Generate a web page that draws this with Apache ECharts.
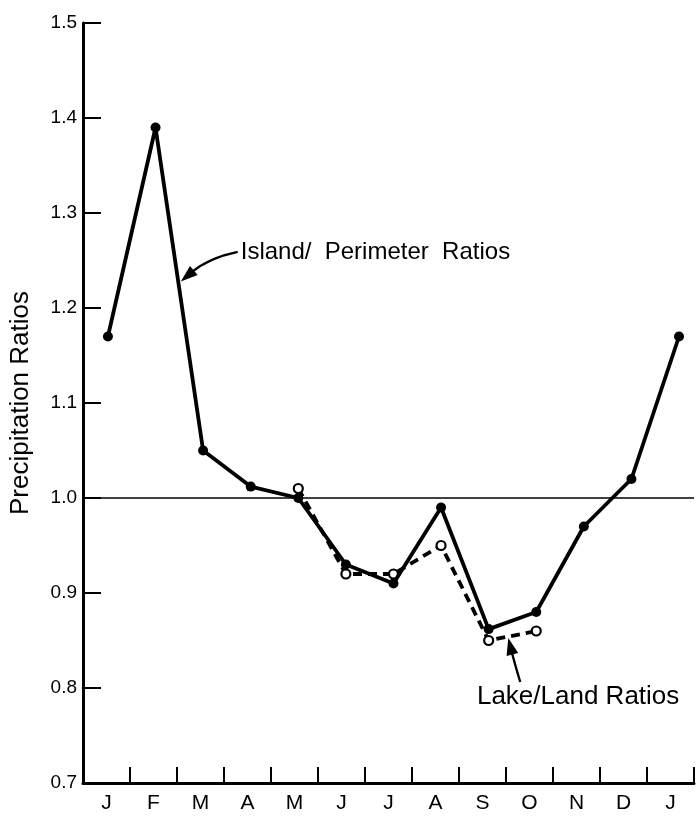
<!DOCTYPE html>
<html>
<head>
<meta charset="utf-8">
<style>
  html, body { margin: 0; padding: 0; background: #fff; }
  #chart { width: 698px; height: 816px; }
</style>
<script src="https://cdn.jsdelivr.net/npm/echarts@6/dist/echarts.min.js"></script>
</head>
<body>
<div id="chart"></div>
<script>
// Month labels along the bottom (January through the following January)
const months = ['J', 'F', 'M', 'A', 'M', 'J', 'J', 'A', 'S', 'O', 'N', 'D', 'J'];

// Island / perimeter precipitation ratios, one per month
const islandRatios = [1.17, 1.39, 1.05, 1.012, 1.00, 0.93, 0.91, 0.99, 0.862, 0.88, 0.97, 1.02, 1.17];

// Lake / land ratios, available May through October
const lakeStartIndex = 4;
const lakeRatios = [1.01, 0.92, 0.92, 0.95, 0.85, 0.86];

// Value-axis ticks
const yTicks = [0.7, 0.8, 0.9, 1.0, 1.1, 1.2, 1.3, 1.4, 1.5];

const FONT = '"Liberation Sans", Arial, Helvetica, sans-serif';
const INK = '#000';

const islandData = islandRatios.map((v, i) => [i, v]);
const lakeData = lakeRatios.map((v, i) => [i + lakeStartIndex, v]);

// Curved pointer: quadratic curve from tail through a control point to a filled arrowhead.
// Each item: [tailX, tailY, ctrlX, ctrlY, tipX, tipY] in month / ratio units.
function renderPointer(params, api) {
  const tail = api.coord([api.value(0), api.value(1)]);
  const ctrl = api.coord([api.value(2), api.value(3)]);
  const tip = api.coord([api.value(4), api.value(5)]);
  let dx = tip[0] - ctrl[0], dy = tip[1] - ctrl[1];
  const len = Math.hypot(dx, dy) || 1;
  dx /= len; dy /= len;
  const headLen = 17, headHalf = 6;
  const base = [tip[0] - dx * headLen, tip[1] - dy * headLen];
  const nx = -dy, ny = dx;
  return {
    type: 'group',
    children: [
      {
        type: 'bezierCurve',
        shape: { x1: tail[0], y1: tail[1], cpx1: ctrl[0], cpy1: ctrl[1],
                 x2: base[0] + dx * 3, y2: base[1] + dy * 3 },
        style: { stroke: INK, lineWidth: 2.3, fill: null }
      },
      {
        type: 'polygon',
        shape: { points: [tip,
                          [base[0] + nx * headHalf, base[1] + ny * headHalf],
                          [base[0] - nx * headHalf, base[1] - ny * headHalf]] },
        style: { fill: INK, stroke: null }
      }
    ]
  };
}

const chart = echarts.init(document.getElementById('chart'), null, { renderer: 'canvas' });

chart.setOption({
  backgroundColor: '#fff',
  animation: false,
  grid: { left: 82, right: 4, top: 23, bottom: 33, containLabel: false },
  xAxis: [
    {
      // visible month axis with ticks between the months
      type: 'category',
      data: months,
      boundaryGap: true,
      axisLine: { show: true, onZero: false, lineStyle: { color: INK, width: 3 } },
      axisTick: { show: true, inside: true, length: 16, alignWithLabel: false,
                  lineStyle: { color: INK, width: 2 } },
      axisLabel: { color: INK, fontSize: 21, fontFamily: FONT, margin: 10 },
      splitLine: { show: false }
    },
    {
      // hidden numeric month axis that positions the plotted points
      type: 'value',
      min: -0.524,
      max: 12.315,
      show: false
    }
  ],
  yAxis: {
    type: 'value',
    min: 0.7,
    max: 1.5,
    interval: 0.1,
    name: 'Precipitation Ratios',
    nameLocation: 'middle',
    nameRotate: 90,
    nameGap: 49,
    nameTextStyle: { color: INK, fontSize: 26, fontFamily: FONT },
    axisLine: { show: true, onZero: false, lineStyle: { color: INK, width: 3 } },
    axisTick: { show: true, inside: true, length: 18, lineStyle: { color: INK, width: 2 } },
    axisLabel: {
      color: INK, fontSize: 19, fontFamily: FONT, margin: 6,
      formatter: v => {
        const hit = yTicks.find(t => Math.abs(t - v) < 1e-6);
        return hit !== undefined ? hit.toFixed(1) : '';
      }
    },
    splitLine: { show: false }
  },
  series: [
    {
      name: 'Lake/Land Ratios',
      type: 'line',
      xAxisIndex: 1,
      data: lakeData,
      z: 3,
      symbol: 'circle',
      symbolSize: 9,
      showSymbol: true,
      itemStyle: { color: '#fff', borderColor: INK, borderWidth: 2.2 },
      lineStyle: { color: INK, width: 3.8, type: [9, 6] },
      emphasis: { disabled: true },
      markPoint: {
        silent: true,
        symbol: 'circle',
        symbolSize: 0,
        data: [{
          coord: [9.88, 0.7905],
          label: {
            show: true, position: 'inside', formatter: 'Lake/Land Ratios',
            color: INK, fontSize: 26, fontFamily: FONT, align: 'center', verticalAlign: 'middle'
          }
        }]
      }
    },
    {
      name: 'Island/ Perimeter Ratios',
      type: 'line',
      xAxisIndex: 1,
      data: islandData,
      z: 4,
      symbol: 'circle',
      symbolSize: 10,
      showSymbol: true,
      itemStyle: { color: INK, borderColor: INK, borderWidth: 0 },
      lineStyle: { color: INK, width: 3.8 },
      emphasis: { disabled: true },
      markPoint: {
        silent: true,
        symbol: 'circle',
        symbolSize: 0,
        data: [{
          coord: [2.79, 1.259],
          label: {
            show: true, position: 'inside', formatter: 'Island/  Perimeter  Ratios',
            color: INK, fontSize: 24, fontFamily: FONT, align: 'left', verticalAlign: 'middle'
          }
        }]
      },
      markLine: {
        silent: true,
        symbol: 'none',
        label: { show: false },
        data: [
          { yAxis: 1.0, lineStyle: { color: INK, width: 1.5, type: 'solid' } }
        ]
      }
    },
    {
      name: 'pointers',
      type: 'custom',
      xAxisIndex: 1,
      silent: true,
      z: 5,
      clip: false,
      renderItem: renderPointer,
      dimensions: ['tx', 'ty', 'cx', 'cy', 'hx', 'hy'],
      encode: { x: [0, 2, 4], y: [1, 3, 5] },
      data: [
        [2.727, 1.259, 2.119, 1.2526, 1.531, 1.228],
        [8.664, 0.8063, 8.538, 0.8274, 8.413, 0.8526]
      ]
    }
  ]
});
</script>
</body>
</html>
